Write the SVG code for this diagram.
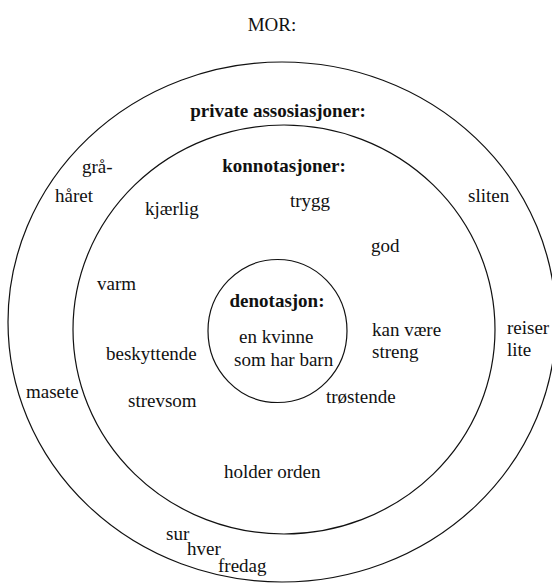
<svg xmlns="http://www.w3.org/2000/svg" width="552" height="584" viewBox="0 0 552 584">
<style>
.t{font-family:'Liberation Serif',serif;font-size:19px;fill:#111}
.b{font-weight:bold}
.ring{fill:none;stroke:#111;stroke-width:1.2}
</style>
<rect width="552" height="584" fill="#fff"/>
<text class="t" x="272" y="31" text-anchor="middle" font-family="Liberation Serif">MOR:</text>
<g id="outer">
<ellipse class="ring" cx="282" cy="322" rx="274" ry="260"/>
<text class="t b" x="278" y="117" text-anchor="middle" font-family="Liberation Serif">private assosiasjoner:</text>
<text class="t" x="82" y="173" font-family="Liberation Serif">gr&#229;-</text>
<text class="t" x="55" y="202" font-family="Liberation Serif">h&#229;ret</text>
<text class="t" x="468" y="202" font-family="Liberation Serif">sliten</text>
<text class="t" x="507" y="334" font-family="Liberation Serif">reiser</text>
<text class="t" x="507" y="356" font-family="Liberation Serif">lite</text>
<text class="t" x="26" y="398" font-family="Liberation Serif">masete</text>
<text class="t" x="166" y="540" font-family="Liberation Serif">sur</text>
<text class="t" x="187" y="555" font-family="Liberation Serif">hver</text>
<text class="t" x="218" y="572" font-family="Liberation Serif">fredag</text>
</g>
<g id="middle">
<ellipse class="ring" cx="284" cy="329.5" rx="211" ry="204.5"/>
<text class="t b" x="284" y="172" text-anchor="middle" font-family="Liberation Serif">konnotasjoner:</text>
<text class="t" x="145" y="215" font-family="Liberation Serif">kj&#230;rlig</text>
<text class="t" x="290" y="207" font-family="Liberation Serif">trygg</text>
<text class="t" x="371" y="252" font-family="Liberation Serif">god</text>
<text class="t" x="97" y="290" font-family="Liberation Serif">varm</text>
<text class="t" x="372" y="336" font-family="Liberation Serif">kan v&#230;re</text>
<text class="t" x="372" y="358" font-family="Liberation Serif">streng</text>
<text class="t" x="106" y="360" font-family="Liberation Serif">beskyttende</text>
<text class="t" x="128" y="407" font-family="Liberation Serif">strevsom</text>
<text class="t" x="326" y="403" font-family="Liberation Serif">tr&#248;stende</text>
<text class="t" x="224" y="478" font-family="Liberation Serif">holder orden</text>
</g>
<g id="inner">
<ellipse class="ring" cx="277.5" cy="331" rx="69.5" ry="71.5"/>
<text class="t b" x="277" y="307" text-anchor="middle" font-family="Liberation Serif">denotasjon:</text>
<text class="t" x="239" y="343" font-family="Liberation Serif">en kvinne</text>
<text class="t" x="234" y="366" font-family="Liberation Serif">som har barn</text>
</g>
</svg>
